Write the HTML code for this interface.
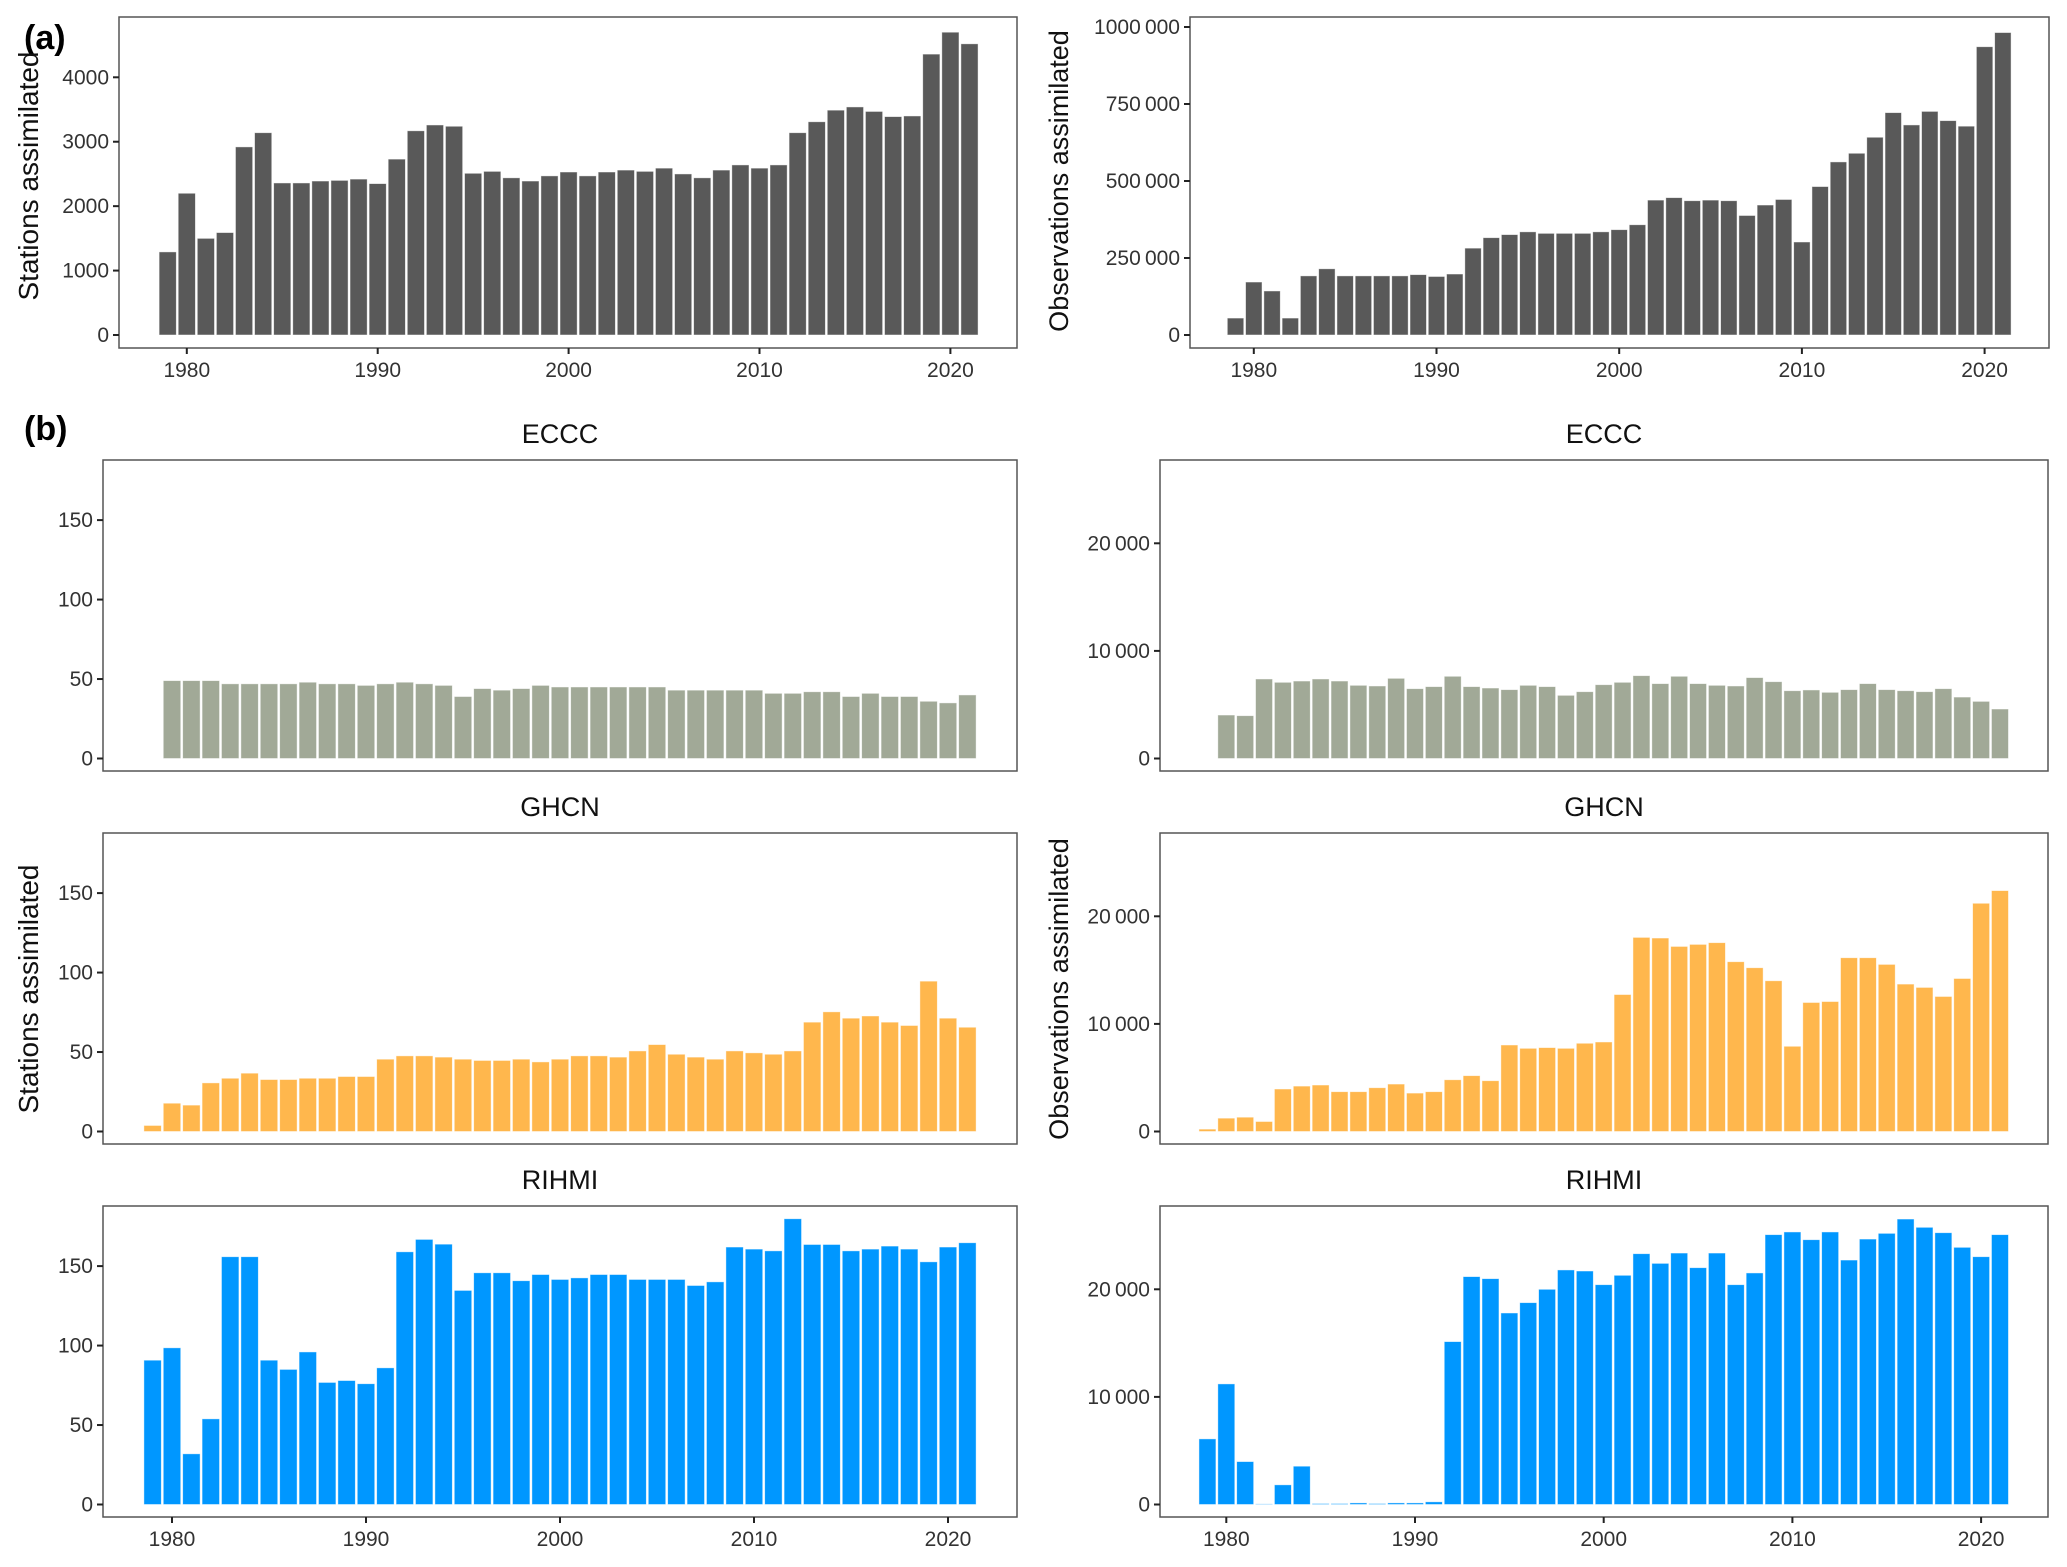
<!DOCTYPE html>
<html><head><meta charset="utf-8"><style>
html,body{margin:0;padding:0;background:#fff;}
svg{display:block;font-family:"Liberation Sans Narrow","Liberation Sans",sans-serif;}
</style></head><body>
<svg id="fig" width="2067" height="1567" viewBox="0 0 2067 1567" xmlns="http://www.w3.org/2000/svg">
<text x="24" y="49" font-family="Liberation Sans, sans-serif" font-weight="bold" font-size="34">(a)</text>
<text x="24" y="440" font-family="Liberation Sans, sans-serif" font-weight="bold" font-size="34">(b)</text>
<text transform="translate(38,176) rotate(-90)" text-anchor="middle" font-family="Liberation Sans, sans-serif" font-size="28" fill="#111">Stations assimilated</text>
<text transform="translate(1068,181) rotate(-90)" text-anchor="middle" font-family="Liberation Sans, sans-serif" font-size="27" fill="#111">Observations assimilated</text>
<text transform="translate(38,989) rotate(-90)" text-anchor="middle" font-family="Liberation Sans, sans-serif" font-size="28" fill="#111">Stations assimilated</text>
<text transform="translate(1068,989) rotate(-90)" text-anchor="middle" font-family="Liberation Sans, sans-serif" font-size="27" fill="#111">Observations assimilated</text>
</svg>
<script>
const years = [1979,1980,1981,1982,1983,1984,1985,1986,1987,1988,1989,1990,1991,1992,1993,1994,1995,1996,1997,1998,1999,2000,2001,2002,2003,2004,2005,2006,2007,2008,2009,2010,2011,2012,2013,2014,2015,2016,2017,2018,2019,2020,2021];
const eccYears = years.slice(1);
const totalStations = [1290,2200,1500,1590,2920,3140,2360,2360,2390,2400,2420,2350,2730,3170,3260,3240,2510,2540,2440,2390,2470,2530,2470,2530,2560,2540,2590,2500,2440,2560,2640,2590,2640,3140,3310,3490,3540,3470,3390,3400,4360,4700,4520];
const totalObs = [55000,172000,143000,55000,192000,215000,192000,192000,192000,192000,196000,190000,198000,282000,316000,326000,335000,330000,330000,330000,335000,342000,358000,438000,446000,436000,438000,436000,388000,422000,440000,302000,482000,562000,590000,642000,722000,682000,726000,696000,678000,936000,982000];
const ecccStations = [49,49,49,47,47,47,47,48,47,47,46,47,48,47,46,39,44,43,44,46,45,45,45,45,45,45,43,43,43,43,43,41,41,42,42,39,41,39,39,36,35,40];
const ecccObs = [4040,3980,7390,7080,7200,7390,7200,6800,6740,7450,6490,6680,7640,6680,6550,6400,6800,6680,5870,6210,6860,7080,7700,6960,7640,6960,6800,6740,7520,7140,6300,6370,6150,6400,6960,6400,6300,6210,6490,5710,5310,4600];
const ghcnStations = [3.8,17.8,16.6,30.6,33.5,36.7,32.7,32.7,33.5,33.5,34.6,34.6,45.5,47.6,47.6,46.8,45.5,44.7,44.7,45.5,43.8,45.5,47.6,47.6,46.8,50.7,54.7,48.6,46.8,45.5,50.7,49.5,48.6,50.7,68.8,75.3,71.3,72.7,68.8,66.7,94.6,71.3,65.6];
const ghcnObs = [220,1240,1330,930,3950,4220,4320,3700,3700,4070,4410,3570,3700,4810,5190,4720,8040,7730,7800,7730,8200,8320,12730,18040,17980,17200,17390,17550,15780,15220,14010,7920,11990,12080,16150,16150,15530,13700,13390,12550,14220,21210,22390];
const rihmiStations = [90.8,98.6,31.9,53.9,155.9,155.9,90.8,85,96,76.8,78,76,86,159,166.8,163.8,134.7,145.8,145.8,140.8,144.7,141.6,142.6,144.7,144.7,141.6,141.6,141.6,137.8,140.1,162,160.7,159.6,179.8,163.6,163.6,159.6,160.7,162.6,160.7,152.7,162,164.7];
const rihmiObs = [6100,11210,3990,60,1830,3560,90,90,150,90,150,150,250,15140,21180,20990,17800,18760,20000,21800,21700,20430,21300,23310,22410,23370,22010,23370,20430,21520,25080,25330,24610,25330,22720,24670,25200,26530,25760,25260,23900,23030,25080];
const xTicks = [1980,1990,2000,2010,2020];
const ticksA1 = [0,1000,2000,3000,4000];
const ticksA2 = [0,250000,500000,750000,1000000];
const ticksBL = [0,50,100,150];
const ticksBR = [0,10000,20000];

const NS='http://www.w3.org/2000/svg';
const svg=document.getElementById('fig');
function fmt(v){ if(v>=1000000){return '1000\u2009000';} if(v>=10000){return String(v).replace(/\B(?=(\d{3})+(?!\d))/g,'\u2009');} return String(v); }
function mk(tag,attrs,parent){const e=document.createElementNS(NS,tag);for(const k in attrs)e.setAttribute(k,attrs[k]);(parent||svg).appendChild(e);return e;}

function panel(p){
  const g=mk('g',{});
  
  
  const xs=v=>p.x0+(v-1980)*p.step;
  const ys=v=>p.zero-v*p.k;
  if(p.title){
    const t=mk('text',{x:(p.L+p.R)/2,y:p.T-17,'text-anchor':'middle','font-family':'Liberation Sans, sans-serif','font-size':27,fill:'#111'},g);
    t.textContent=p.title;
    
    
  }
  const bw=p.step*0.9;
  p.xs.forEach((yr,i)=>{
    const v=p.vals[i];const h=v*p.k;
    const r=mk('rect',{x:xs(yr)-bw/2,y:ys(v),width:bw,height:Math.max(h,0.5),fill:p.color,stroke:'#fff','stroke-width':0.8,'stroke-opacity':0.6},g);
    
    
  });
  const f=mk('rect',{x:p.L,y:p.T,width:p.R-p.L,height:p.B-p.T,fill:'none',stroke:'#555','stroke-width':1.5},g);
  
  
  p.yt.forEach(v=>{
    mk('line',{x1:p.L-6,x2:p.L,y1:ys(v),y2:ys(v),stroke:'#222','stroke-width':2},g);
    const t=mk('text',{x:p.L-10,y:ys(v)+7,'text-anchor':'end','font-size':21,fill:'#333'},g);
    t.textContent=fmt(v);
    
    
  });
  if(p.showX){
    xTicks.forEach(v=>{
      mk('line',{x1:xs(v),x2:xs(v),y1:p.B,y2:p.B+6,stroke:'#222','stroke-width':2},g);
      const t=mk('text',{x:xs(v),y:p.B+29,'text-anchor':'middle','font-size':21,fill:'#333'},g);
      t.textContent=v;
      
      
    });
  }
}
const darkC='#595959', ecC='#a1a997', ghC='#ffb74d', riC='#0097ff';
panel({name:'a-stations-chart',L:119,R:1017,T:17,B:348,zero:335,k:(335-77.3)/4000,x0:186.8,step:19.09,xs:years,vals:totalStations,color:darkC,yt:ticksA1,showX:true});
panel({name:'a-observations-chart',L:1190,R:2049,T:17,B:348,zero:335,k:(335-27)/1000000,x0:1253.8,step:18.27,xs:years,vals:totalObs,color:darkC,yt:ticksA2,showX:true});
const kL=238.4/150, kR=107.6/10000;
const rows=[[460,771],[833,1144],[1206,1517]];
panel({name:'eccc-stations-chart',title:'ECCC',L:103,R:1017,T:rows[0][0],B:rows[0][1],zero:rows[0][1]-12.5,k:kL,x0:172,step:19.4,xs:eccYears,vals:ecccStations,color:ecC,yt:ticksBL,showX:false});
panel({name:'ghcn-stations-chart',title:'GHCN',L:103,R:1017,T:rows[1][0],B:rows[1][1],zero:rows[1][1]-12.5,k:kL,x0:172,step:19.4,xs:years,vals:ghcnStations,color:ghC,yt:ticksBL,showX:false});
panel({name:'rihmi-stations-chart',title:'RIHMI',L:103,R:1017,T:rows[2][0],B:rows[2][1],zero:rows[2][1]-12.5,k:kL,x0:172,step:19.4,xs:years,vals:rihmiStations,color:riC,yt:ticksBL,showX:true});
panel({name:'eccc-observations-chart',title:'ECCC',L:1160,R:2048,T:rows[0][0],B:rows[0][1],zero:rows[0][1]-12.5,k:kR,x0:1226.3,step:18.87,xs:eccYears,vals:ecccObs,color:ecC,yt:ticksBR,showX:false});
panel({name:'ghcn-observations-chart',title:'GHCN',L:1160,R:2048,T:rows[1][0],B:rows[1][1],zero:rows[1][1]-12.5,k:kR,x0:1226.3,step:18.87,xs:years,vals:ghcnObs,color:ghC,yt:ticksBR,showX:false});
panel({name:'rihmi-observations-chart',title:'RIHMI',L:1160,R:2048,T:rows[2][0],B:rows[2][1],zero:rows[2][1]-12.5,k:kR,x0:1226.3,step:18.87,xs:years,vals:rihmiObs,color:riC,yt:ticksBR,showX:true});
</script>
</body></html>
